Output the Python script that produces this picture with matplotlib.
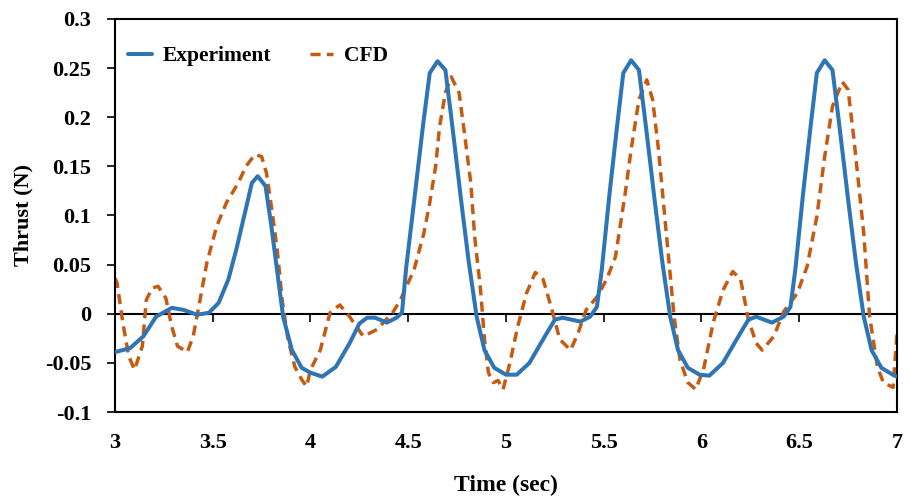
import matplotlib
matplotlib.use("Agg")
import matplotlib.pyplot as plt

# experiment
t_exp = [3.0, 3.077, 3.145, 3.21, 3.29, 3.35, 3.42, 3.48, 3.53, 3.58, 3.62, 3.665,
         3.70, 3.73, 3.77, 3.80, 3.835, 3.86, 3.905, 3.955, 4.0, 4.06, 4.13, 4.20,
         4.25, 4.29, 4.33, 4.39, 4.44, 4.468, 4.49, 4.535, 4.577, 4.61, 4.65, 4.69,
         4.72, 4.75, 4.77, 4.81, 4.85, 4.89, 4.94, 5.00, 5.055, 5.12, 5.19, 5.25,
         5.29, 5.38, 5.43, 5.465, 5.49, 5.53, 5.57, 5.60, 5.64, 5.68, 5.71, 5.74,
         5.76, 5.80, 5.84, 5.88, 5.93, 5.99, 6.04, 6.11, 6.18, 6.24, 6.28, 6.36,
         6.42, 6.455, 6.48, 6.52, 6.56, 6.59, 6.63, 6.67, 6.70, 6.73, 6.75, 6.79,
         6.83, 6.87, 6.92, 6.97, 7.0]
y_exp = [-0.039, -0.035, -0.023, -0.003, 0.006, 0.004, -0.001, 0.001, 0.011, 0.035,
         0.065, 0.103, 0.133, 0.140, 0.130, 0.089, 0.035, -0.003, -0.037, -0.055,
         -0.060, -0.064, -0.054, -0.030, -0.010, -0.004, -0.004, -0.009, -0.004, 0.001,
         0.048, 0.123, 0.194, 0.245, 0.257, 0.248, 0.200, 0.150, 0.116, 0.052,
         -0.003, -0.037, -0.055, -0.062, -0.062, -0.050, -0.026, -0.006, -0.004, -0.008,
         -0.003, 0.007, 0.045, 0.123, 0.194, 0.245, 0.258, 0.248, 0.200, 0.150,
         0.116, 0.052, -0.003, -0.037, -0.055, -0.062, -0.063, -0.050, -0.026, -0.006,
         -0.003, -0.009, -0.003, 0.007, 0.045, 0.123, 0.194, 0.245, 0.258, 0.248,
         0.200, 0.150, 0.116, 0.052, -0.003, -0.037, -0.055, -0.061, -0.064]

# CFD
t_cfd = [3.0, 3.01, 3.04, 3.07, 3.10, 3.14, 3.16, 3.19, 3.22, 3.26, 3.29, 3.32,
         3.37, 3.40, 3.435, 3.47, 3.52, 3.57, 3.63, 3.67, 3.715, 3.75, 3.775, 3.80,
         3.83, 3.855, 3.885, 3.92, 3.955, 3.98, 4.0, 4.05, 4.10, 4.15, 4.20, 4.27,
         4.34, 4.42, 4.46, 4.53, 4.58, 4.61, 4.64, 4.66, 4.69, 4.72, 4.76, 4.79,
         4.82, 4.84, 4.87, 4.89, 4.91, 4.935, 4.96, 4.985, 5.02, 5.06, 5.105, 5.15,
         5.19, 5.235, 5.275, 5.33, 5.37, 5.41, 5.465, 5.515, 5.56, 5.61, 5.64, 5.68,
         5.72, 5.75, 5.78, 5.82, 5.86, 5.89, 5.93, 5.97, 6.01, 6.06, 6.11, 6.16,
         6.20, 6.24, 6.28, 6.31, 6.37, 6.42, 6.49, 6.54, 6.59, 6.63, 6.67, 6.72,
         6.75, 6.78, 6.83, 6.86, 6.90, 6.93, 6.98, 7.0]
y_cfd = [0.036, 0.032, -0.009, -0.043, -0.057, -0.033, 0.014, 0.026, 0.028, 0.016,
         -0.013, -0.033, -0.039, -0.023, 0.014, 0.052, 0.089, 0.113, 0.133, 0.150,
         0.162, 0.160, 0.143, 0.109, 0.065, 0.014, -0.026, -0.054, -0.067, -0.074,
         -0.057, -0.037, 0.001, 0.009, -0.003, -0.023, -0.016, 0.001, 0.014, 0.045,
         0.082, 0.113, 0.150, 0.190, 0.225, 0.241, 0.225, 0.180, 0.133, 0.078,
         0.024, -0.026, -0.060, -0.070, -0.068, -0.077, -0.050, -0.013, 0.021, 0.042,
         0.035, 0.004, -0.026, -0.037, -0.019, 0.004, 0.017, 0.035, 0.058, 0.123,
         0.167, 0.218, 0.238, 0.218, 0.167, 0.082, -0.003, -0.047, -0.070, -0.077,
         -0.057, -0.009, 0.024, 0.043, 0.035, -0.006, -0.030, -0.037, -0.023, 0.002,
         0.021, 0.048, 0.099, 0.160, 0.211, 0.236, 0.228, 0.177, 0.082, -0.003,
         -0.054, -0.070, -0.075, -0.020]

x_ticks = [3, 3.5, 4, 4.5, 5, 5.5, 6, 6.5, 7]
x_labels = ["3", "3.5", "4", "4.5", "5", "5.5", "6", "6.5", "7"]
y_ticks = [-0.1, -0.05, 0, 0.05, 0.1, 0.15, 0.2, 0.25, 0.3]
y_labels = ["-0.1", "-0.05", "0", "0.05", "0.1", "0.15", "0.2", "0.25", "0.3"]

plt.rcParams["font.family"] = ["Liberation Serif", "DejaVu Serif"]
plt.rcParams["font.weight"] = "bold"

fig = plt.figure(figsize=(9.09, 4.99), dpi=100)
ax = fig.add_axes([0.1265, 0.1743, 0.8603, 0.7877])

ax.plot(t_exp, y_exp, color="#2E75B6", lw=2.9, label="Experiment",
        solid_joinstyle="round", solid_capstyle="round", zorder=3)
ax.plot(t_cfd, y_cfd, color="#C55A11", lw=2.5, ls=(0, (2.9, 1.8)), label="CFD",
        dash_joinstyle="round", zorder=2)

ax.set_xlim(3, 7)
ax.set_ylim(-0.1, 0.3)
ax.set_yticks(y_ticks)
ax.set_yticklabels(y_labels)
ax.set_xticks(x_ticks)
ax.set_xticklabels(x_labels)

for s in ax.spines.values():
    s.set_linewidth(1.5)
    s.set_color("black")

ax.tick_params(axis="y", direction="out", length=6, width=1.2, labelsize=16, pad=11)
ax.tick_params(axis="x", length=0, labelsize=16, pad=15)

# zero line carrying the x tick marks
zero_ax = ax.secondary_xaxis(0.25)
zero_ax.set_xticks(x_ticks)
zero_ax.set_xticklabels([])
zero_ax.spines["bottom"].set_linewidth(1.5)
zero_ax.tick_params(direction="out", length=6, width=1.2)

ax.set_xlabel("Time (sec)", fontsize=17, fontweight="bold", labelpad=16)
ax.set_ylabel("Thrust (N)", fontsize=16, fontweight="bold", labelpad=8)

ax.legend(loc="center left", ncol=2, frameon=False, fontsize=15.5,
          handlelength=1.1, handletextpad=0.5, columnspacing=1.8,
          borderpad=0, borderaxespad=0, bbox_to_anchor=(0.0166, 0.905))

fig.savefig("out.png", dpi=100)
